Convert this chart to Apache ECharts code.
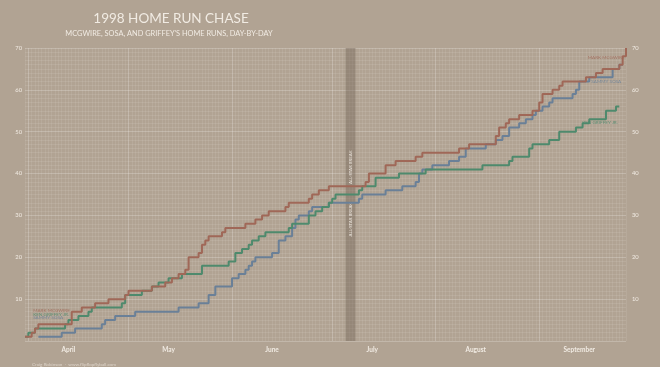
<!DOCTYPE html>
<html><head><meta charset="utf-8">
<script src="https://cdn.jsdelivr.net/npm/echarts@6/dist/echarts.min.js"></script>
<style>html,body{margin:0;padding:0;background:#b1a393;}#c{width:660px;height:367px;}</style>
</head><body><div id="c"></div>
<script>
// ---- data ----
const seasonStart = [3, 31];   // March 31, 1998
const seasonEnd = [9, 27];     // September 27, 1998
const monthNames = ['April', 'May', 'June', 'July', 'August', 'September'];
const monthLabelDay = '13';
const allStarBreak = ['07-05', '07-08'];

const mcgwireHR = ['03-31','04-02','04-03','04-04','04-14','04-14','04-14','04-17','04-21','04-25','04-30',
  '05-01','05-08','05-12','05-14','05-16','05-18','05-19','05-19','05-19','05-22','05-23','05-23','05-24','05-25','05-29','05-30',
  '06-05','06-08','06-10','06-12','06-17','06-18','06-24','06-25','06-27','06-30',
  '07-11','07-12','07-12','07-17','07-17','07-20','07-26','07-28',
  '08-08','08-11','08-19','08-19','08-20','08-20','08-22','08-23','08-26','08-30',
  '09-01','09-01','09-02','09-02','09-05','09-07','09-08','09-15','09-18','09-20','09-25','09-26','09-26','09-27','09-27'];

const sosaHR = ['04-04','04-11','04-15','04-23','04-24','04-27',
  '05-03','05-16','05-22','05-25','05-25','05-27','05-27',
  '06-01','06-01','06-03','06-05','06-06','06-07','06-08','06-13','06-15','06-15','06-15','06-17','06-19','06-19','06-20','06-20','06-21','06-24','06-25','06-30',
  '07-09','07-10','07-17','07-22','07-26','07-27','07-27','07-28','07-31',
  '08-05','08-08','08-10','08-10','08-16','08-19','08-21','08-23','08-23','08-26','08-28','08-30','08-31',
  '09-02','09-04','09-05','09-11','09-12','09-13','09-13','09-16','09-23','09-23','09-25'];

const griffeyHR = ['03-31','04-01','04-03','04-12','04-13','04-16','04-19','04-20','04-29','04-30','04-30',
  '05-05','05-08','05-10','05-13','05-17','05-23','05-23','05-31',
  '06-02','06-02','06-04','06-06','06-07','06-09','06-11','06-18','06-19','06-24','06-24','06-26','06-28','06-30',
  '07-01','07-02','07-09','07-10','07-14','07-14','07-21','07-29',
  '08-15','08-23','08-24','08-29','08-29','08-30',
  '09-04','09-07','09-07','09-12','09-14','09-16','09-21','09-21','09-24'];

// ---- build day categories ----
const days = [];
{
  const d = new Date(Date.UTC(1998, seasonStart[0] - 1, seasonStart[1]));
  const end = new Date(Date.UTC(1998, seasonEnd[0] - 1, seasonEnd[1]));
  while (d <= end) {
    days.push(String(d.getUTCMonth() + 1).padStart(2, '0') + '-' + String(d.getUTCDate()).padStart(2, '0'));
    d.setUTCDate(d.getUTCDate() + 1);
  }
}
function cumulative(hrs) {
  const first = hrs[0], last = hrs[hrs.length - 1];
  return days.map(day => (day < first || day > last) ? null : hrs.filter(h => h <= day).length);
}

const C_MC = '#a06858', C_SO = '#6a8098', C_GR = '#4e8a6d';
const FONT = 'Lato, "Open Sans", sans-serif';
const light = '#f1ebe3';

function tag(coord, text, color, pos) {
  return { coord: coord, symbol: 'circle', symbolSize: 1, itemStyle: { color: 'rgba(0,0,0,0)' },
    label: { show: true, position: pos, distance: 1, formatter: text, color: color, fontSize: 4.6, fontFamily: FONT, opacity: 0.85 } };
}

const chart = echarts.init(document.getElementById('c'), null, { renderer: 'canvas' });
chart.setOption({
  backgroundColor: '#b1a393',
  animation: false,
  title: [
    { text: '1998 HOME RUN CHASE', left: 166, top: 7, textAlign: 'center',
      textStyle: { color: light, fontSize: 13.5, fontWeight: 'normal', fontFamily: FONT } },
    { text: "MCGWIRE, SOSA, AND GRIFFEY'S HOME RUNS, DAY-BY-DAY", left: 164, top: 25, textAlign: 'center',
      textStyle: { color: light, fontSize: 7.4, fontWeight: 'normal', fontFamily: FONT } },
    { text: 'Craig Robinson  ·  www.flipflopflyball.com', left: 27, top: 357,
      textStyle: { color: '#ddd4ca', fontSize: 4.6, fontWeight: 'normal', fontFamily: FONT } }
  ],
  grid: { left: 25, right: 34, top: 48, bottom: 26 },
  xAxis: [
    { type: 'category', data: days, boundaryGap: false,
      axisLine: { show: false }, axisTick: { show: false },
      axisLabel: { interval: (i, v) => v.slice(3) === monthLabelDay, formatter: v => monthNames[parseInt(v.slice(0, 2), 10) - 4],
        color: light, fontSize: 6.5, fontWeight: 'bold', fontFamily: FONT, margin: 5 },
      splitLine: { show: true, interval: 0, lineStyle: { color: 'rgba(255,255,255,0.08)', width: 1 } } },
    { type: 'category', data: days, boundaryGap: false, position: 'bottom',
      axisLine: { show: false }, axisTick: { show: false }, axisLabel: { show: false },
      splitLine: { show: true, interval: (i, v) => v.slice(3) === '01', lineStyle: { color: 'rgba(255,255,255,0.16)', width: 1 } } }
  ],
  yAxis: [
    { type: 'value', min: 0, max: 70, interval: 10,
      axisLine: { show: false }, axisTick: { show: false },
      axisLabel: { formatter: v => v === 0 ? '' : v, color: light, fontSize: 5.8, fontFamily: FONT, margin: 3 },
      splitLine: { show: true, lineStyle: { color: 'rgba(255,255,255,0.22)', width: 1 } },
      minorTick: { show: false, splitNumber: 10 },
      minorSplitLine: { show: true, lineStyle: { color: 'rgba(255,255,255,0.09)', width: 1 } } },
    { type: 'value', min: 0, max: 70, interval: 10, position: 'right',
      axisLine: { show: false }, axisTick: { show: false },
      axisLabel: { formatter: v => v === 0 ? '' : v, color: light, fontSize: 5.8, fontFamily: FONT, margin: 6 },
      splitLine: { show: false } }
  ],
  series: [
    { type: 'line', name: 'Sammy Sosa', data: cumulative(sosaHR), step: 'end', symbol: 'none', z: 3,
      lineStyle: { color: C_SO, width: 2 },
      markArea: { silent: true, itemStyle: { color: 'rgba(0,0,0,0)' },
        label: { show: true, position: 'inside', rotate: 90, formatter: 'ALL-STAR BREAK', color: light, fontSize: 4.3, fontFamily: FONT },
        data: [[{ xAxis: allStarBreak[0], yAxis: 38 }, { xAxis: allStarBreak[1], yAxis: 45 }],
               [{ xAxis: allStarBreak[0], yAxis: 25.5 }, { xAxis: allStarBreak[1], yAxis: 32.5 }]] },
      markPoint: { silent: true, data: [tag(['09-26', 62.1], 'SAMMY SOSA', C_SO, 'left'), tag(['04-02', 5.5], 'SAMMY SOSA', C_SO, 'right')] } },
    { type: 'line', name: 'Ken Griffey Jr.', data: cumulative(griffeyHR), step: 'end', symbol: 'none', z: 4,
      lineStyle: { color: C_GR, width: 2 },
      markPoint: { silent: true, data: [tag(['09-25', 52.1], 'KEN GRIFFEY JR.', C_GR, 'left'), tag(['04-02', 6.4], 'KEN GRIFFEY JR.', C_GR, 'right')] } },
    { type: 'line', name: 'Mark McGwire', data: cumulative(mcgwireHR), step: 'end', symbol: 'none', z: 5,
      lineStyle: { color: C_MC, width: 2 },
      markArea: { silent: true, itemStyle: { color: 'rgba(105,90,75,0.38)' },
        data: [[{ xAxis: allStarBreak[0] }, { xAxis: allStarBreak[1] }]] },
      markPoint: { silent: true, data: [tag(['09-27', 67.7], 'MARK MCGWIRE', C_MC, 'left'), tag(['04-02', 7.3], 'MARK MCGWIRE', C_MC, 'right')] } }
  ]
});
</script></body></html>
